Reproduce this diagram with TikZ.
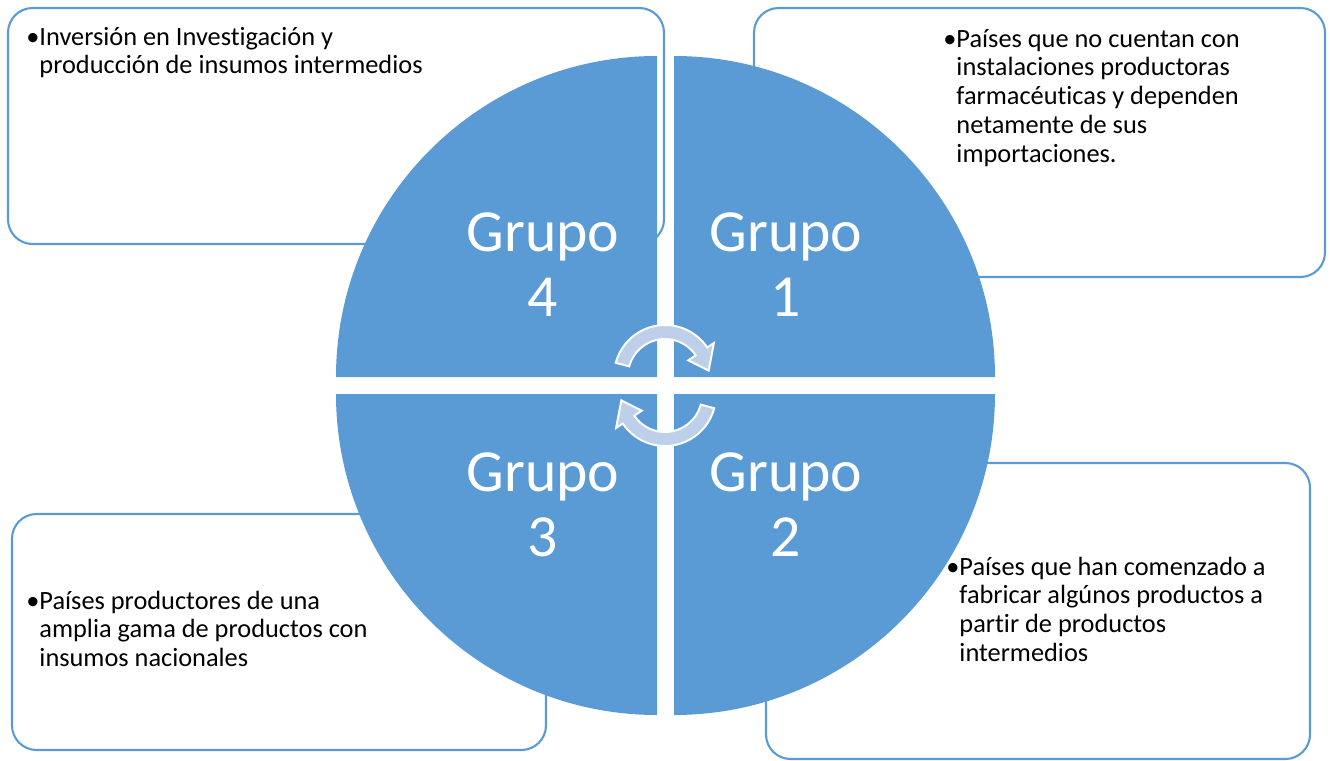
\documentclass[tikz,border=0pt]{standalone}
\usepackage{fontspec}
\setmainfont{Carlito}[Ligatures=NoCommon]
\definecolor{smartblue}{RGB}{91,155,213}
\definecolor{arrowblue}{RGB}{189,207,233}

\begin{document}
\begin{tikzpicture}[
    x=0.02cm, y=0.02cm,
    infobox/.style={draw=smartblue, line width=1.2pt, fill=white, rounded corners=14pt},
    quad/.style={fill=smartblue},
    grupo/.style={anchor=base, inner sep=0, text=white, font=\fontsize{34}{37.4}\selectfont},
    bullettext/.style={anchor=base west, inner sep=0, font=\fontsize{15}{16.4}\selectfont},
    cyclearrow/.pic={
        \filldraw[fill=arrowblue, draw=white, line width=1.1pt]
            (165:51) arc[start angle=165, end angle=34, radius=51]
            -- (34:59) -- (7:44) -- (34:28) -- (34:37)
            arc[start angle=34, end angle=165, radius=37] -- cycle;
    }
]
\useasboundingbox (0,0) rectangle (1330,-761);

% Text boxes behind the circle
\draw[infobox] (8,-8) rectangle (664,-244);
\draw[infobox] (754,-8) rectangle (1325,-277);
\draw[infobox] (766,-463) rectangle (1310,-759);
\draw[infobox] (12,-514) rectangle (546,-750);

% Four quadrants
\foreach \cx/\cy/\a in {657/-377/90, 674/-377/0, 674/-394/-90, 657/-394/180} {
    \fill[quad] (\cx,\cy) -- ++(\a:321) arc[start angle=\a, end angle=\a+90, radius=321] -- cycle;
}

% Group labels
\foreach \gx/\gy/\n in {786/-251/1, 786/-491/2, 543/-491/3, 543/-251/4} {
    \node[grupo] (g\n) at (\gx,\gy) {\begin{tabular}[t]{@{}c@{}}Grupo\\\n\end{tabular}};
}

% Cycle arrows
\pic at (665,-376) {cyclearrow};
\pic[rotate=180] at (665,-395) {cyclearrow};

% Descriptions
\node[bullettext] (t4) at (26,-45) {\begin{tabular}[t]{@{}l@{}l@{}}\textbullet&Inversión en Investigación y\\
    &producción de insumos intermedios\end{tabular}};
\node[bullettext] (t1) at (943,-47) {\begin{tabular}[t]{@{}l@{}l@{}}\textbullet&Países que no cuentan con\\
    &instalaciones productoras\\&farmacéuticas y dependen\\&netamente de sus\\&importaciones.\end{tabular}};
\node[bullettext] (t2) at (946,-575) {\begin{tabular}[t]{@{}l@{}l@{}}\textbullet&Países que han comenzado a\\
    &fabricar algúnos productos a\\&partir de productos\\&intermedios\end{tabular}};
\node[bullettext] (t3) at (26,-609) {\begin{tabular}[t]{@{}l@{}l@{}}\textbullet&Países productores de una\\
    &amplia gama de productos con\\&insumos nacionales\end{tabular}};

\end{tikzpicture}
\end{document}
